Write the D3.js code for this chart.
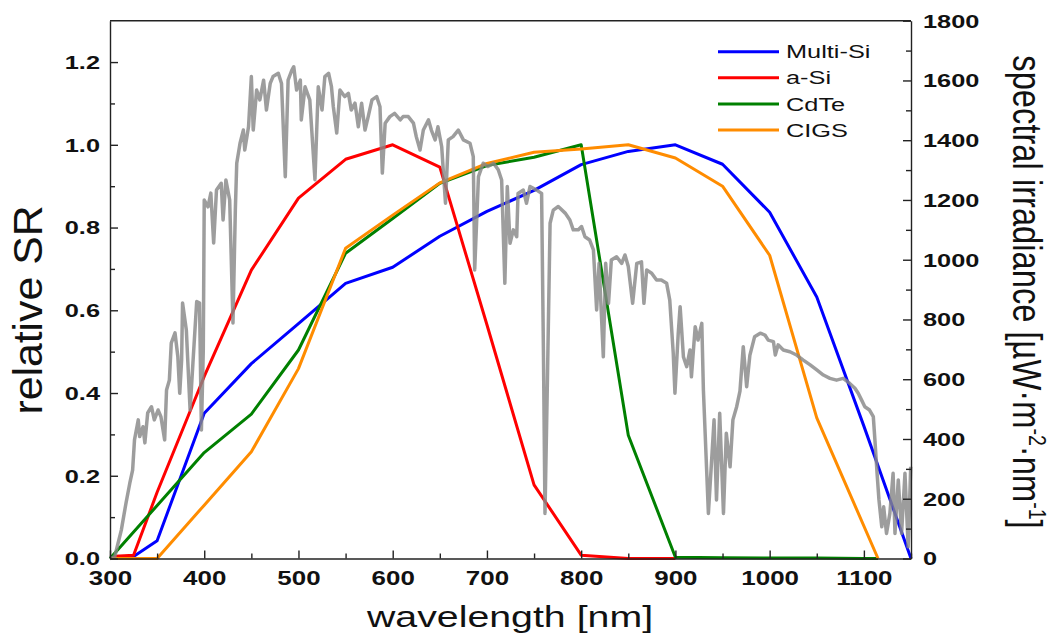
<!DOCTYPE html>
<html>
<head>
<meta charset="utf-8">
<script src="https://cdn.jsdelivr.net/npm/d3@7"></script>
<style>
  body { margin: 0; background: #fff; }
  text { font-family: "Liberation Sans", Arial, sans-serif; fill: #111; }
  .tick text { font-weight: bold; }
  .domain, .tick line { stroke: #222; stroke-width: 1.4; }
</style>
</head>
<body>
<div id="chart"></div>
<script>
// spectral response curves (relative SR, left axis)
const multiSiWl = [300,325,350,400,450,500,550,600,650,700,750,800,850,900,950,1000,1050,1100,1150];
const multiSiSR = [0,0.005,0.043,0.351,0.471,0.568,0.665,0.704,0.779,0.839,0.89,0.952,0.984,1.0,0.953,0.837,0.632,0.32,0];

const aSiWl = [300,325,350,400,450,500,550,600,650,700,750,800,850,900];
const aSiSR = [0.005,0.008,0.16,0.44,0.697,0.871,0.965,1.0,0.946,0.565,0.178,0.008,0,0];

const cdteWl = [300,400,450,500,550,600,650,700,750,800,850,900,950,1000,1050,1100,1115];
const cdteSR = [0,0.256,0.349,0.504,0.738,0.822,0.907,0.95,0.97,1.0,0.298,0.003,0.002,0.001,0.001,0,0];

const cigsWl = [300,350,400,450,500,550,600,650,700,750,800,850,900,950,1000,1050,1115];
const cigsSR = [0,0,0.129,0.258,0.459,0.75,0.83,0.908,0.955,0.982,0.99,1.0,0.968,0.90,0.733,0.34,0];

// solar spectral irradiance (right axis)
const irrWl = [300,305,312,317,321,324,326,330,331.5,335,337,340,344,347,351,354,358,360,363,365,369,372,374,376,377,381,383,385,388,392,395,397,399,400,404,407,410,413,418,420,423,427,430.5,433,434.5,438,441.5,443,447,450,452,455.6,459,463,466,470,473,478.6,482,486,489,493,495,498,502,503,507,512,517.5,521,525,528,532,535,537,540.6,544,549,553,556,560,563.5,567,570.6,574,578,583,586.5,589,592,597,602,608,611,616.5,622,625,629,632.5,638,641,645,648,652,656,659,664,669.6,675,682,685.5,687,691,696,701,707,712,715.6,719,721.6,724.5,728,731.6,733,738.6,742,745.7,752.7,758,760,761.6,764,767,770.4,775.7,783,788,791.6,797,800.4,804,809,813,816.4,819,823.5,826,829,832,837.6,843,846.5,850,854.6,859,864,866.6,869.5,874.8,880,885,890.7,894,897.7,899.5,903,905,908.5,912,915.5,917,921,924,928,929.7,933,935,938,941,943.6,947,951,954,958,961,965,968.5,972,975.6,979,984,990,995,998.5,1004,1006,1009,1014.5,1021.5,1028.6,1035.7,1043,1050,1057,1064,1071,1078,1085,1090.5,1094,1097.6,1101,1106,1110,1111.7,1114,1116,1119,1121,1124,1127.6,1131,1133,1136.5,1140,1143.6,1147,1149.7];
const irrVal = [0,6,95,186,252,296,397,464,408,441,387,487,508,464,497,475,397,564,597,721,755,675,553,664,855,765,631,497,654,860,855,430,698,1200,1177,1223,1056,1233,1256,1133,1267,1200,788,1166,1323,1390,1434,1367,1445,1613,1434,1568,1535,1601,1501,1590,1613,1624,1590,1278,1601,1635,1646,1568,1601,1468,1579,1535,1268,1579,1501,1613,1624,1579,1512,1424,1568,1546,1557,1501,1524,1445,1524,1434,1479,1535,1546,1512,1290,1457,1479,1490,1468,1479,1479,1457,1412,1367,1434,1468,1434,1401,1445,1378,1189,1401,1412,1434,1401,1390,1345,966,1278,1323,1312,1323,1301,1267,921,1245,1055,1100,1077,1222,1233,1189,1245,1233,1222,675,151,564,1122,1166,1178,1156,1133,1100,1100,1111,1077,1066,1033,832,988,675,988,854,999,1010,988,1016,977,854,988,993,854,966,955,932,932,921,865,687,553,754,843,675,642,698,608,776,731,787,564,307,151,307,464,196,486,151,419,307,464,508,560,709,575,680,742,754,748,731,726,681,715,698,692,681,664,648,631,614,603,597,603,586,570,553,530,508,497,475,397,285,196,106,173,84,151,285,84,263,84,285,39,307];

const xTicks = [300,400,500,600,700,800,900,1000,1100];
const xMinor = [350,450,550,650,750,850,950,1050,1150];
const yTicks = [0,0.2,0.4,0.6,0.8,1.0,1.2];
const yMinor = [0.1,0.3,0.5,0.7,0.9,1.1];
const rTicks = [0,200,400,600,800,1000,1200,1400,1600,1800];
const rMinor = [100,300,500,700,900,1100,1300,1500,1700];

const series = [
  {name: "Multi-Si", wl: multiSiWl, sr: multiSiSR, color: "#0000ff"},
  {name: "a-Si", wl: aSiWl, sr: aSiSR, color: "#ff0000"},
  {name: "CdTe", wl: cdteWl, sr: cdteSR, color: "#008000"},
  {name: "CIGS", wl: cigsWl, sr: cigsSR, color: "#ff8c00"}
];

const width = 1055, height = 635;
const plotLeft = 110, plotRight = 911, plotTop = 20.7, plotBottom = 558.5;

const svg = d3.select("#chart").append("svg")
  .attr("width", width)
  .attr("height", height);

const x = d3.scaleLinear().domain([300, 1150]).range([plotLeft, plotRight]);
const y = d3.scaleLinear().domain([0, 1.3]).range([plotBottom, plotTop]);
const yR = d3.scaleLinear().domain([0, 1800]).range([plotBottom, plotTop]);

// colored SR curves
series.forEach(s => {
  const line = d3.line().x((d, i) => x(s.wl[i])).y(d => y(d));
  svg.append("path")
    .datum(s.sr)
    .attr("d", line)
    .attr("fill", "none")
    .attr("stroke", s.color)
    .attr("stroke-width", 3)
    .attr("stroke-linejoin", "round");
});

// irradiance spectrum, drawn on top
const irrLine = d3.line().x((d, i) => x(irrWl[i])).y(d => yR(d));
svg.append("path")
  .datum(irrVal)
  .attr("d", irrLine)
  .attr("fill", "none")
  .attr("stroke", "#888")
  .attr("stroke-opacity", 0.82)
  .attr("stroke-width", 3.5)
  .attr("stroke-linejoin", "round");

// top frame
svg.append("line")
  .attr("x1", plotLeft).attr("x2", plotRight)
  .attr("y1", plotTop).attr("y2", plotTop)
  .attr("stroke", "#222").attr("stroke-width", 1.4);

// bottom axis
const gx = svg.append("g").attr("transform", `translate(0,${plotBottom})`);
gx.call(d3.axisBottom(x).tickValues(xTicks).tickSize(-8).tickSizeOuter(0).tickFormat(d3.format("d")));
gx.selectAll(".tick text")
  .attr("y", null).attr("dy", null)
  .attr("font-size", 19.5)
  .attr("transform", "translate(0,26.5) scale(1.33,1)");
svg.append("g").attr("transform", `translate(0,${plotBottom})`)
  .call(d3.axisBottom(x).tickValues(xMinor).tickSize(-5).tickSizeOuter(0).tickFormat(""))
  .select(".domain").remove();

// left axis
const gy = svg.append("g").attr("transform", `translate(${plotLeft},0)`);
gy.call(d3.axisLeft(y).tickValues(yTicks).tickSize(-8).tickSizeOuter(0).tickFormat(d3.format(".1f")));
gy.selectAll(".tick text")
  .attr("x", null).attr("dy", "0.36em")
  .attr("font-size", 17.5)
  .attr("transform", "translate(-10,0) scale(1.45,1)");
svg.append("g").attr("transform", `translate(${plotLeft},0)`)
  .call(d3.axisLeft(y).tickValues(yMinor).tickSize(-5).tickSizeOuter(0).tickFormat(""))
  .select(".domain").remove();

// right axis
const gr = svg.append("g").attr("transform", `translate(${plotRight},0)`);
gr.call(d3.axisRight(yR).tickValues(rTicks).tickSize(-8).tickSizeOuter(0).tickFormat(d3.format("d")));
gr.selectAll(".tick text")
  .attr("x", null).attr("dy", "0.36em")
  .attr("font-size", 17.5)
  .attr("transform", "translate(12,0) scale(1.45,1)");
svg.append("g").attr("transform", `translate(${plotRight},0)`)
  .call(d3.axisRight(yR).tickValues(rMinor).tickSize(-5).tickSizeOuter(0).tickFormat(""))
  .select(".domain").remove();

svg.selectAll(".tick line").attr("stroke", "#222").attr("stroke-width", 1.4);

// axis titles
svg.append("text")
  .attr("transform", "translate(510,627) scale(1.31,1)")
  .attr("text-anchor", "middle")
  .attr("font-size", 30)
  .text("wavelength [nm]");

svg.append("text")
  .attr("transform", "translate(42,310) scale(1.33,1.38) rotate(-90)")
  .attr("text-anchor", "middle")
  .attr("font-size", 31)
  .text("relative SR");

const rt = svg.append("text")
  .attr("transform", "translate(1013,292) scale(1.33,1.09) rotate(90)")
  .attr("text-anchor", "middle")
  .attr("font-size", 30);
rt.append("tspan").text("spectral irradiance [\u00b5W\u00b7m");
rt.append("tspan").attr("font-size", 18).attr("dy", -12).text("-2");
rt.append("tspan").attr("dy", 12).text("\u00b7nm");
rt.append("tspan").attr("font-size", 18).attr("dy", -12).text("-1");
rt.append("tspan").attr("dy", 12).text("]");

// legend
const legend = svg.append("g");
series.forEach((s, i) => {
  const ly = 51.7 + i * 26.1;
  legend.append("line")
    .attr("x1", 718).attr("x2", 779)
    .attr("y1", ly).attr("y2", ly)
    .attr("stroke", s.color).attr("stroke-width", 3);
  legend.append("text")
    .attr("transform", `translate(786,${ly + 6.6}) scale(1.37,1)`)
    .attr("font-size", 18.5)
    .text(s.name);
});
</script>
</body>
</html>
